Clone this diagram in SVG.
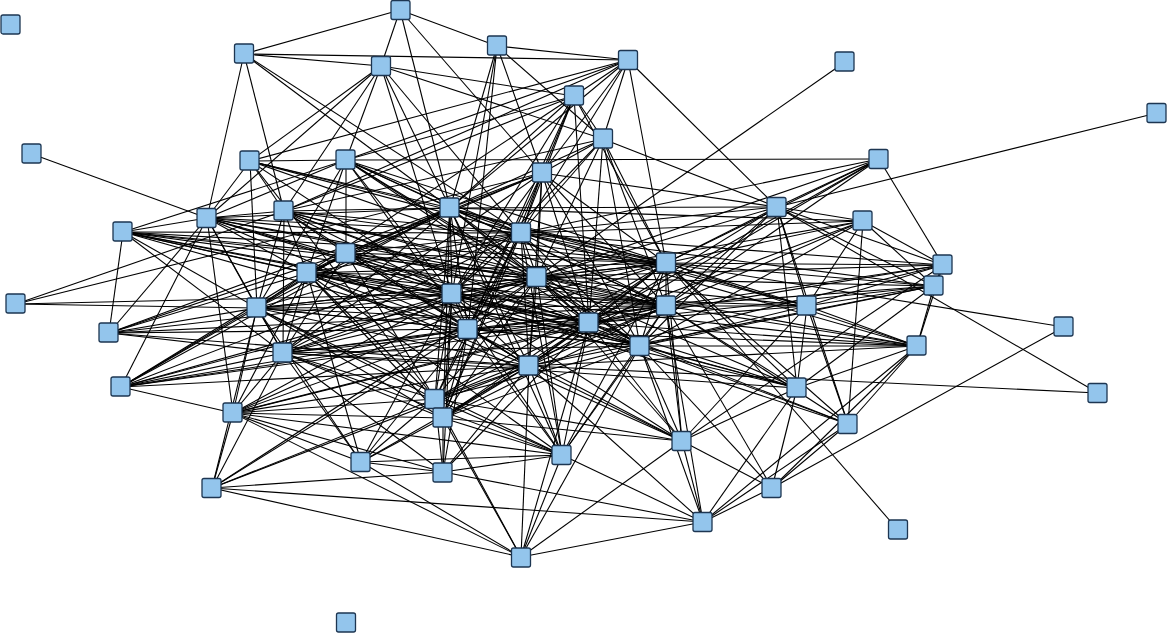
<svg xmlns="http://www.w3.org/2000/svg" width="1167" height="633" viewBox="0 0 1167 633">
<style>
.n rect{fill:#93c5ec;stroke:#1d3652;stroke-width:1.3}
#edges path{stroke:#000;stroke-width:1.1;fill:none}
</style>
<rect width="1167" height="633" fill="#fff"/>
<g id="edges">
<path d="M400 10L244 54"/><path d="M400 10L381 66"/><path d="M400 10L497 46"/><path d="M400 10L450 208"/><path d="M400 10L542 173"/>
<path d="M244 54L381 66"/><path d="M244 54L628 60"/><path d="M244 54L207 218"/><path d="M244 54L284 211"/><path d="M244 54L450 208"/><path d="M244 54L521 233"/>
<path d="M497 46L628 60"/><path d="M497 46L450 208"/><path d="M497 46L542 173"/><path d="M497 46L452 294"/><path d="M497 46L603 139"/><path d="M497 46L468 329"/>
<path d="M381 66L346 160"/><path d="M381 66L207 218"/><path d="M381 66L284 211"/><path d="M381 66L450 208"/><path d="M381 66L574 96"/><path d="M381 66L603 139"/><path d="M381 66L521 233"/><path d="M381 66L452 294"/><path d="M381 66L250 161"/>
<path d="M628 60L574 96"/><path d="M628 60L603 139"/><path d="M628 60L250 161"/><path d="M628 60L346 160"/><path d="M628 60L450 208"/><path d="M628 60L777 207"/><path d="M628 60L666 263"/><path d="M628 60L284 211"/><path d="M628 60L542 173"/><path d="M628 60L521 233"/>
<path d="M845 62L537 277"/>
<path d="M574 96L603 139"/><path d="M574 96L542 173"/><path d="M574 96L450 208"/><path d="M574 96L452 294"/><path d="M574 96L521 233"/><path d="M574 96L346 160"/><path d="M574 96L284 211"/><path d="M574 96L307 273"/><path d="M574 96L468 329"/><path d="M574 96L666 263"/><path d="M574 96L589 323"/>
<path d="M1157 113L777 207"/>
<path d="M32 154L207 218"/>
<path d="M603 139L777 207"/><path d="M603 139L666 263"/><path d="M603 139L450 208"/><path d="M603 139L537 277"/><path d="M603 139L666 306"/><path d="M603 139L589 323"/><path d="M603 139L521 233"/><path d="M603 139L640 346"/><path d="M603 139L284 211"/><path d="M603 139L542 173"/><path d="M603 139L452 294"/>
<path d="M250 161L207 218"/><path d="M250 161L346 160"/><path d="M250 161L284 211"/><path d="M250 161L450 208"/><path d="M250 161L521 233"/><path d="M250 161L666 263"/><path d="M250 161L452 294"/><path d="M250 161L257 308"/><path d="M250 161L435 399"/><path d="M250 161L666 306"/>
<path d="M346 160L879 159"/><path d="M346 160L450 208"/><path d="M346 160L521 233"/><path d="M346 160L666 263"/><path d="M346 160L537 277"/><path d="M346 160L452 294"/><path d="M346 160L666 306"/><path d="M346 160L589 323"/><path d="M346 160L468 329"/><path d="M346 160L207 218"/><path d="M346 160L123 232"/><path d="M346 160L346 253"/><path d="M346 160L307 273"/><path d="M346 160L257 308"/><path d="M346 160L640 346"/>
<path d="M879 159L777 207"/><path d="M879 159L521 233"/><path d="M879 159L666 263"/><path d="M879 159L943 265"/><path d="M879 159L666 306"/><path d="M879 159L537 277"/><path d="M879 159L589 323"/><path d="M879 159L529 366"/>
<path d="M542 173L450 208"/><path d="M542 173L521 233"/><path d="M542 173L666 263"/><path d="M542 173L307 273"/><path d="M542 173L537 277"/><path d="M542 173L666 306"/><path d="M542 173L452 294"/><path d="M542 173L346 253"/><path d="M542 173L283 353"/><path d="M542 173L589 323"/><path d="M542 173L529 366"/><path d="M542 173L468 329"/><path d="M542 173L640 346"/><path d="M542 173L443 418"/><path d="M542 173L777 207"/>
<path d="M207 218L123 232"/><path d="M207 218L284 211"/><path d="M207 218L307 273"/><path d="M207 218L257 308"/><path d="M207 218L450 208"/><path d="M207 218L521 233"/><path d="M207 218L666 263"/><path d="M207 218L452 294"/><path d="M207 218L537 277"/><path d="M207 218L666 306"/><path d="M207 218L589 323"/><path d="M207 218L468 329"/><path d="M207 218L283 353"/><path d="M207 218L109 333"/><path d="M207 218L233 413"/><path d="M207 218L640 346"/>
<path d="M284 211L450 208"/><path d="M284 211L521 233"/><path d="M284 211L666 263"/><path d="M284 211L307 273"/><path d="M284 211L452 294"/><path d="M284 211L537 277"/><path d="M284 211L666 306"/><path d="M284 211L589 323"/><path d="M284 211L257 308"/><path d="M284 211L283 353"/><path d="M284 211L529 366"/><path d="M284 211L346 253"/><path d="M284 211L640 346"/>
<path d="M450 208L521 233"/><path d="M450 208L666 263"/><path d="M450 208L537 277"/><path d="M450 208L452 294"/><path d="M450 208L666 306"/><path d="M450 208L589 323"/><path d="M450 208L468 329"/><path d="M450 208L529 366"/><path d="M450 208L640 346"/><path d="M450 208L307 273"/><path d="M450 208L346 253"/><path d="M450 208L435 399"/><path d="M450 208L443 418"/><path d="M450 208L562 455"/><path d="M450 208L777 207"/><path d="M450 208L863 221"/><path d="M450 208L807 306"/><path d="M450 208L283 353"/><path d="M450 208L257 308"/>
<path d="M777 207L863 221"/><path d="M777 207L666 263"/><path d="M777 207L666 306"/><path d="M777 207L943 265"/><path d="M777 207L934 286"/><path d="M777 207L807 306"/><path d="M777 207L797 388"/><path d="M777 207L848 424"/><path d="M777 207L1098 393"/><path d="M777 207L589 323"/><path d="M777 207L537 277"/><path d="M777 207L521 233"/><path d="M777 207L640 346"/>
<path d="M863 221L666 263"/><path d="M863 221L666 306"/><path d="M863 221L943 265"/><path d="M863 221L934 286"/><path d="M863 221L807 306"/><path d="M863 221L640 346"/><path d="M863 221L537 277"/><path d="M863 221L589 323"/><path d="M863 221L521 233"/><path d="M863 221L848 424"/>
<path d="M123 232L109 333"/><path d="M123 232L307 273"/><path d="M123 232L257 308"/><path d="M123 232L452 294"/><path d="M123 232L537 277"/><path d="M123 232L666 306"/><path d="M123 232L666 263"/><path d="M123 232L589 323"/><path d="M123 232L521 233"/><path d="M123 232L468 329"/><path d="M123 232L283 353"/><path d="M123 232L346 253"/><path d="M123 232L640 346"/>
<path d="M521 233L666 263"/><path d="M521 233L307 273"/><path d="M521 233L537 277"/><path d="M521 233L452 294"/><path d="M521 233L666 306"/><path d="M521 233L589 323"/><path d="M521 233L468 329"/><path d="M521 233L529 366"/><path d="M521 233L640 346"/><path d="M521 233L283 353"/><path d="M521 233L346 253"/><path d="M521 233L257 308"/><path d="M521 233L435 399"/><path d="M521 233L443 418"/><path d="M521 233L562 455"/><path d="M521 233L807 306"/><path d="M521 233L943 265"/><path d="M521 233L934 286"/><path d="M521 233L917 346"/>
<path d="M346 253L666 263"/><path d="M346 253L307 273"/><path d="M346 253L537 277"/><path d="M346 253L452 294"/><path d="M346 253L666 306"/><path d="M346 253L589 323"/><path d="M346 253L468 329"/><path d="M346 253L529 366"/><path d="M346 253L257 308"/><path d="M346 253L283 353"/><path d="M346 253L435 399"/>
<path d="M666 263L307 273"/><path d="M666 263L537 277"/><path d="M666 263L452 294"/><path d="M666 263L666 306"/><path d="M666 263L589 323"/><path d="M666 263L468 329"/><path d="M666 263L529 366"/><path d="M666 263L640 346"/><path d="M666 263L283 353"/><path d="M666 263L257 308"/><path d="M666 263L807 306"/><path d="M666 263L943 265"/><path d="M666 263L934 286"/><path d="M666 263L917 346"/><path d="M666 263L797 388"/><path d="M666 263L848 424"/><path d="M666 263L682 441"/><path d="M666 263L1064 327"/><path d="M666 263L898 530"/><path d="M666 263L435 399"/><path d="M666 263L443 418"/><path d="M666 263L562 455"/>
<path d="M943 265L666 306"/><path d="M943 265L807 306"/><path d="M943 265L589 323"/><path d="M943 265L537 277"/><path d="M943 265L529 366"/><path d="M943 265L917 346"/><path d="M943 265L934 286"/>
<path d="M307 273L537 277"/><path d="M307 273L452 294"/><path d="M307 273L666 306"/><path d="M307 273L589 323"/><path d="M307 273L468 329"/><path d="M307 273L529 366"/><path d="M307 273L640 346"/><path d="M307 273L283 353"/><path d="M307 273L257 308"/><path d="M307 273L435 399"/><path d="M307 273L443 418"/><path d="M307 273L562 455"/><path d="M307 273L233 413"/><path d="M307 273L361 462"/><path d="M307 273L682 441"/><path d="M307 273L797 388"/>
<path d="M537 277L452 294"/><path d="M537 277L666 306"/><path d="M537 277L589 323"/><path d="M537 277L468 329"/><path d="M537 277L529 366"/><path d="M537 277L640 346"/><path d="M537 277L283 353"/><path d="M537 277L257 308"/><path d="M537 277L807 306"/><path d="M537 277L934 286"/><path d="M537 277L917 346"/><path d="M537 277L797 388"/><path d="M537 277L435 399"/><path d="M537 277L443 418"/><path d="M537 277L562 455"/><path d="M537 277L682 441"/><path d="M537 277L233 413"/><path d="M537 277L212 488"/>
<path d="M934 286L666 306"/><path d="M934 286L807 306"/><path d="M934 286L640 346"/><path d="M934 286L589 323"/><path d="M934 286L529 366"/><path d="M934 286L797 388"/><path d="M934 286L917 346"/>
<path d="M16 304L542 173"/><path d="M16 304L284 211"/><path d="M16 304L257 308"/><path d="M16 304L452 294"/>
<path d="M452 294L666 306"/><path d="M452 294L589 323"/><path d="M452 294L468 329"/><path d="M452 294L529 366"/><path d="M452 294L640 346"/><path d="M452 294L283 353"/><path d="M452 294L257 308"/><path d="M452 294L807 306"/><path d="M452 294L435 399"/><path d="M452 294L443 418"/><path d="M452 294L562 455"/><path d="M452 294L233 413"/><path d="M452 294L361 462"/><path d="M452 294L443 472"/><path d="M452 294L682 441"/><path d="M452 294L917 346"/><path d="M452 294L797 388"/><path d="M452 294L848 424"/>
<path d="M257 308L666 306"/><path d="M257 308L589 323"/><path d="M257 308L468 329"/><path d="M257 308L529 366"/><path d="M257 308L640 346"/><path d="M257 308L283 353"/><path d="M257 308L109 333"/><path d="M257 308L435 399"/><path d="M257 308L233 413"/><path d="M257 308L443 418"/><path d="M257 308L562 455"/><path d="M257 308L361 462"/><path d="M257 308L212 488"/><path d="M257 308L121 387"/>
<path d="M666 306L589 323"/><path d="M666 306L468 329"/><path d="M666 306L529 366"/><path d="M666 306L640 346"/><path d="M666 306L283 353"/><path d="M666 306L807 306"/><path d="M666 306L917 346"/><path d="M666 306L797 388"/><path d="M666 306L848 424"/><path d="M666 306L682 441"/><path d="M666 306L435 399"/><path d="M666 306L443 418"/><path d="M666 306L562 455"/><path d="M666 306L772 488"/><path d="M666 306L703 522"/><path d="M666 306L233 413"/>
<path d="M807 306L589 323"/><path d="M807 306L640 346"/><path d="M807 306L797 388"/><path d="M807 306L917 346"/><path d="M807 306L848 424"/><path d="M807 306L682 441"/>
<path d="M109 333L307 273"/><path d="M109 333L346 253"/><path d="M109 333L450 208"/><path d="M109 333L452 294"/><path d="M109 333L283 353"/><path d="M109 333L468 329"/><path d="M109 333L529 366"/><path d="M109 333L666 306"/>
<path d="M589 323L468 329"/><path d="M589 323L529 366"/><path d="M589 323L640 346"/><path d="M589 323L283 353"/><path d="M589 323L917 346"/><path d="M589 323L797 388"/><path d="M589 323L848 424"/><path d="M589 323L682 441"/><path d="M589 323L435 399"/><path d="M589 323L443 418"/><path d="M589 323L562 455"/><path d="M589 323L521 557"/><path d="M589 323L443 472"/><path d="M589 323L233 413"/><path d="M589 323L121 387"/>
<path d="M468 329L529 366"/><path d="M468 329L640 346"/><path d="M468 329L283 353"/><path d="M468 329L435 399"/><path d="M468 329L443 418"/><path d="M468 329L562 455"/><path d="M468 329L233 413"/><path d="M468 329L361 462"/><path d="M468 329L443 472"/><path d="M468 329L682 441"/><path d="M468 329L212 488"/><path d="M468 329L917 346"/>
<path d="M640 346L283 353"/><path d="M640 346L917 346"/><path d="M640 346L797 388"/><path d="M640 346L848 424"/><path d="M640 346L682 441"/><path d="M640 346L435 399"/><path d="M640 346L443 418"/><path d="M640 346L562 455"/><path d="M640 346L772 488"/><path d="M640 346L703 522"/><path d="M640 346L521 557"/>
<path d="M917 346L703 522"/><path d="M917 346L772 488"/><path d="M917 346L848 424"/><path d="M917 346L797 388"/><path d="M917 346L529 366"/>
<path d="M283 353L529 366"/><path d="M283 353L435 399"/><path d="M283 353L443 418"/><path d="M283 353L562 455"/><path d="M283 353L233 413"/><path d="M283 353L361 462"/><path d="M283 353L443 472"/><path d="M283 353L212 488"/><path d="M283 353L121 387"/><path d="M283 353L797 388"/>
<path d="M529 366L435 399"/><path d="M529 366L443 418"/><path d="M529 366L562 455"/><path d="M529 366L233 413"/><path d="M529 366L361 462"/><path d="M529 366L443 472"/><path d="M529 366L212 488"/><path d="M529 366L521 557"/><path d="M529 366L703 522"/><path d="M529 366L682 441"/><path d="M529 366L1098 393"/>
<path d="M121 387L207 218"/><path d="M121 387L450 208"/><path d="M121 387L307 273"/><path d="M121 387L346 253"/><path d="M121 387L452 294"/><path d="M121 387L537 277"/><path d="M121 387L521 233"/><path d="M121 387L468 329"/><path d="M121 387L666 306"/><path d="M121 387L529 366"/><path d="M121 387L233 413"/>
<path d="M797 388L703 522"/><path d="M797 388L772 488"/><path d="M797 388L682 441"/>
<path d="M1064 327L772 488"/>
<path d="M435 399L443 418"/><path d="M435 399L562 455"/><path d="M435 399L233 413"/><path d="M435 399L361 462"/><path d="M435 399L443 472"/><path d="M435 399L212 488"/><path d="M435 399L521 557"/><path d="M435 399L682 441"/>
<path d="M233 413L212 488"/><path d="M233 413L521 557"/><path d="M233 413L361 462"/><path d="M233 413L443 472"/><path d="M233 413L443 418"/><path d="M233 413L562 455"/>
<path d="M443 418L562 455"/><path d="M443 418L361 462"/><path d="M443 418L443 472"/><path d="M443 418L521 557"/><path d="M443 418L682 441"/>
<path d="M848 424L703 522"/><path d="M848 424L772 488"/>
<path d="M682 441L703 522"/><path d="M682 441L772 488"/><path d="M682 441L521 557"/><path d="M682 441L943 265"/>
<path d="M562 455L361 462"/><path d="M562 455L443 472"/><path d="M562 455L703 522"/><path d="M562 455L521 557"/>
<path d="M361 462L443 472"/><path d="M361 462L521 557"/>
<path d="M443 472L703 522"/><path d="M443 472L212 488"/>
<path d="M212 488L521 557"/><path d="M212 488L703 522"/><path d="M772 488L703 522"/><path d="M703 522L521 557"/>
</g>
<g id="nodes">
<g id="n01" class="n"><rect x="1" y="15" width="19" height="19" rx="2"/></g>
<g id="n02" class="n"><rect x="391" y="0.5" width="19" height="19" rx="2"/></g>
<g id="n03" class="n"><rect x="234.5" y="44" width="19" height="19" rx="2"/></g>
<g id="n04" class="n"><rect x="487.5" y="36" width="19" height="19" rx="2"/></g>
<g id="n05" class="n"><rect x="371.5" y="56.5" width="19" height="19" rx="2"/></g>
<g id="n06" class="n"><rect x="618.5" y="50.5" width="19" height="19" rx="2"/></g>
<g id="n07" class="n"><rect x="835" y="52" width="19" height="19" rx="2"/></g>
<g id="n08" class="n"><rect x="564.5" y="86" width="19" height="19" rx="2"/></g>
<g id="n09" class="n"><rect x="1147" y="103.5" width="19" height="19" rx="2"/></g>
<g id="n10" class="n"><rect x="22" y="144" width="19" height="19" rx="2"/></g>
<g id="n11" class="n"><rect x="593.5" y="129" width="19" height="19" rx="2"/></g>
<g id="n12" class="n"><rect x="240" y="151" width="19" height="19" rx="2"/></g>
<g id="n13" class="n"><rect x="336" y="150" width="19" height="19" rx="2"/></g>
<g id="n14" class="n"><rect x="869" y="149.5" width="19" height="19" rx="2"/></g>
<g id="n15" class="n"><rect x="532.5" y="163" width="19" height="19" rx="2"/></g>
<g id="n16" class="n"><rect x="197" y="208.5" width="19" height="19" rx="2"/></g>
<g id="n17" class="n"><rect x="274" y="201" width="19" height="19" rx="2"/></g>
<g id="n18" class="n"><rect x="440" y="198" width="19" height="19" rx="2"/></g>
<g id="n19" class="n"><rect x="767" y="197.5" width="19" height="19" rx="2"/></g>
<g id="n20" class="n"><rect x="853" y="211" width="19" height="19" rx="2"/></g>
<g id="n21" class="n"><rect x="113" y="222" width="19" height="19" rx="2"/></g>
<g id="n22" class="n"><rect x="511.5" y="223" width="19" height="19" rx="2"/></g>
<g id="n23" class="n"><rect x="336" y="243.5" width="19" height="19" rx="2"/></g>
<g id="n24" class="n"><rect x="656.5" y="253" width="19" height="19" rx="2"/></g>
<g id="n25" class="n"><rect x="933" y="255" width="19" height="19" rx="2"/></g>
<g id="n26" class="n"><rect x="297" y="263" width="19" height="19" rx="2"/></g>
<g id="n27" class="n"><rect x="527" y="267.5" width="19" height="19" rx="2"/></g>
<g id="n28" class="n"><rect x="924" y="276" width="19" height="19" rx="2"/></g>
<g id="n29" class="n"><rect x="6" y="294" width="19" height="19" rx="2"/></g>
<g id="n30" class="n"><rect x="442" y="284" width="19" height="19" rx="2"/></g>
<g id="n31" class="n"><rect x="247" y="298" width="19" height="19" rx="2"/></g>
<g id="n32" class="n"><rect x="656.5" y="296" width="19" height="19" rx="2"/></g>
<g id="n33" class="n"><rect x="797" y="296" width="19" height="19" rx="2"/></g>
<g id="n34" class="n"><rect x="99" y="323" width="19" height="19" rx="2"/></g>
<g id="n35" class="n"><rect x="579" y="313" width="19" height="19" rx="2"/></g>
<g id="n36" class="n"><rect x="458" y="319.5" width="19" height="19" rx="2"/></g>
<g id="n37" class="n"><rect x="1054" y="317" width="19" height="19" rx="2"/></g>
<g id="n38" class="n"><rect x="630" y="336.5" width="19" height="19" rx="2"/></g>
<g id="n39" class="n"><rect x="907" y="336" width="19" height="19" rx="2"/></g>
<g id="n40" class="n"><rect x="273" y="343" width="19" height="19" rx="2"/></g>
<g id="n41" class="n"><rect x="519" y="356" width="19" height="19" rx="2"/></g>
<g id="n42" class="n"><rect x="111" y="377" width="19" height="19" rx="2"/></g>
<g id="n43" class="n"><rect x="787" y="378" width="19" height="19" rx="2"/></g>
<g id="n44" class="n"><rect x="1088" y="383.5" width="19" height="19" rx="2"/></g>
<g id="n45" class="n"><rect x="425" y="389.5" width="19" height="19" rx="2"/></g>
<g id="n46" class="n"><rect x="223" y="403" width="19" height="19" rx="2"/></g>
<g id="n47" class="n"><rect x="433" y="408" width="19" height="19" rx="2"/></g>
<g id="n48" class="n"><rect x="838" y="414.5" width="19" height="19" rx="2"/></g>
<g id="n49" class="n"><rect x="672" y="431.5" width="19" height="19" rx="2"/></g>
<g id="n50" class="n"><rect x="552" y="445.5" width="19" height="19" rx="2"/></g>
<g id="n51" class="n"><rect x="351" y="452.5" width="19" height="19" rx="2"/></g>
<g id="n52" class="n"><rect x="433" y="463" width="19" height="19" rx="2"/></g>
<g id="n53" class="n"><rect x="202" y="478.5" width="19" height="19" rx="2"/></g>
<g id="n54" class="n"><rect x="762" y="478.5" width="19" height="19" rx="2"/></g>
<g id="n55" class="n"><rect x="693" y="512.5" width="19" height="19" rx="2"/></g>
<g id="n56" class="n"><rect x="888.5" y="520" width="19" height="19" rx="2"/></g>
<g id="n57" class="n"><rect x="511.5" y="548" width="19" height="19" rx="2"/></g>
<g id="n58" class="n"><rect x="336.5" y="613" width="19" height="19" rx="2"/></g>
</g>
</svg>
